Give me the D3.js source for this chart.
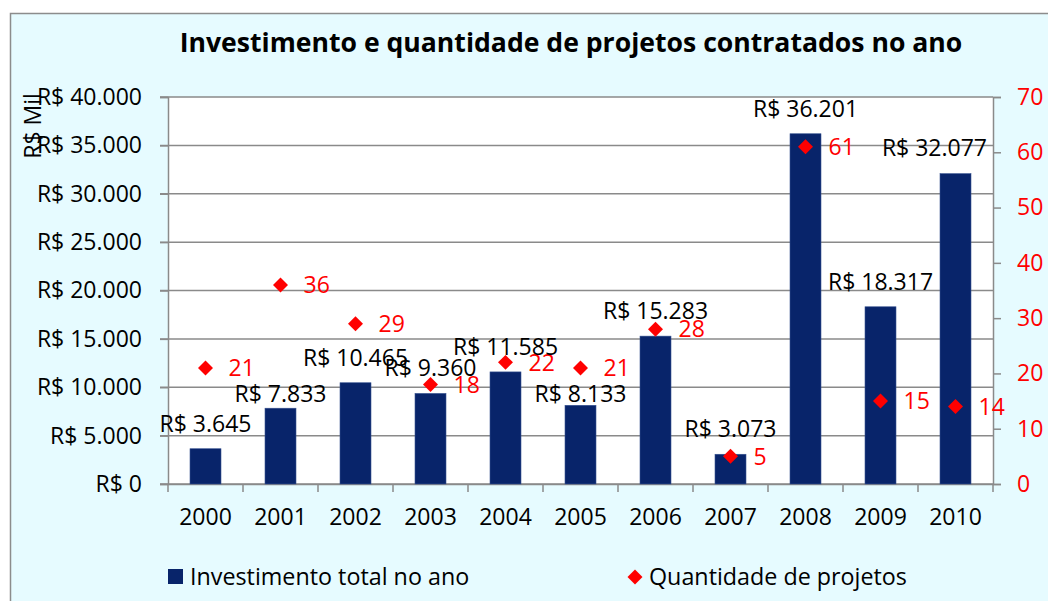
<!DOCTYPE html>
<html><head><meta charset="utf-8">
<script src="https://cdn.jsdelivr.net/npm/d3@7"></script>
<style>
html,body{margin:0;padding:0;background:#fff;}
svg text{font-family:"Open Sans","Noto Sans",sans-serif;}
</style></head>
<body>
<svg id="c" width="1048" height="601"></svg>
<script>
const years = ["2000","2001","2002","2003","2004","2005","2006","2007","2008","2009","2010"];
const investimento = [3645,7833,10465,9360,11585,8133,15283,3073,36201,18317,32077];
const projetos = [21,36,29,18,22,21,28,5,61,15,14];
const leftTicks = [0,5000,10000,15000,20000,25000,30000,35000,40000];
const rightTicks = [0,10,20,30,40,50,60,70];
const title = "Investimento e quantidade de projetos contratados no ano";
const seriesNames = ["Investimento total no ano","Quantidade de projetos"];

const svg = d3.select("#c");
const W=1048,H=601;
const m = {l:168, r:993, t:97, b:484};
const barColor = "#08246a", red = "#ff0000", grid = "#8a8a8a";
const FS = 23;

svg.append("rect").attr("x",10.5).attr("y",13.5).attr("width",W).attr("height",H)
  .attr("fill","#e6fbff").attr("stroke","#8c8c8c").attr("stroke-width",1.5);

const loc = d3.formatLocale({decimal:",",thousands:".",grouping:[3],currency:["R$ ",""]});
const fmt = loc.format("$,.0f");

const x = d3.scaleBand().domain(years).range([m.l,m.r]).paddingInner(0.587).paddingOuter(0.2935);
const y = d3.scaleLinear().domain([0,40000]).range([m.b,m.t]);
const y2 = d3.scaleLinear().domain([0,70]).range([m.b,m.t]);

svg.append("rect").attr("x",m.l).attr("y",m.t).attr("width",m.r-m.l).attr("height",m.b-m.t).attr("fill","#fff");

// title
svg.append("text").attr("x",571).attr("y",52).attr("text-anchor","middle")
  .attr("font-weight","bold").attr("font-size",26.6).attr("fill","#000").text(title);

// gridlines
svg.append("g").selectAll("line").data(leftTicks).join("line")
  .attr("x1",m.l-8).attr("x2",m.r).attr("y1",d=>y(d)).attr("y2",d=>y(d))
  .attr("stroke",grid).attr("stroke-width",1.5);

// left axis
const ga = svg.append("g").attr("transform",`translate(${m.l},0)`)
  .call(d3.axisLeft(y).tickValues(leftTicks).tickFormat(fmt).tickSize(8).tickPadding(18));
ga.select(".domain").attr("stroke",grid).attr("stroke-width",1.5);
ga.selectAll(".tick line").attr("stroke",grid).attr("stroke-width",1.5);
ga.selectAll("text").attr("font-size",FS).attr("fill","#000").style("font-family","Open Sans");

// right axis
const gr = svg.append("g").attr("transform",`translate(${m.r},0)`)
  .call(d3.axisRight(y2).tickValues(rightTicks).tickSize(8).tickPadding(16));
gr.select(".domain").attr("stroke",grid).attr("stroke-width",1.5);
gr.selectAll(".tick line").attr("stroke",grid).attr("stroke-width",1.5);
gr.selectAll("text").attr("font-size",FS).attr("fill",red).style("font-family","Open Sans");

// bottom axis
const gb = svg.append("g").attr("transform",`translate(0,${m.b})`)
  .call(d3.axisBottom(x).tickSize(0).tickPadding(25));
gb.select(".domain").attr("stroke",grid).attr("stroke-width",1.5);
gb.selectAll("text").attr("font-size",FS).attr("fill","#000").style("font-family","Open Sans");
const step = x.step();
const bounds = d3.range(years.length+1).map(i=>m.l + i*step);
svg.append("g").selectAll("line").data(bounds).join("line")
  .attr("x1",d=>d).attr("x2",d=>d).attr("y1",m.b).attr("y2",m.b+8)
  .attr("stroke",grid).attr("stroke-width",1.5);

// y title
svg.append("text").attr("transform","translate(33,126) rotate(-90)").attr("text-anchor","middle")
  .attr("dy","0.35em").attr("font-size",FS).attr("fill","#000").text("R$ Mil");

// bars
svg.append("g").selectAll("rect").data(investimento).join("rect")
  .attr("x",(d,i)=>x(years[i])).attr("width",x.bandwidth())
  .attr("y",d=>y(d)).attr("height",d=>m.b-y(d))
  .attr("fill",barColor).attr("stroke","#34508f").attr("stroke-width",0.6);

// diamonds
const cx = i => x(years[i]) + x.bandwidth()/2;
const sq = d3.symbol().type(d3.symbolSquare).size(112);
svg.append("g").selectAll("path").data(projetos).join("path")
  .attr("d",sq).attr("fill",red)
  .attr("transform",(d,i)=>`translate(${cx(i)},${y2(d)}) rotate(45)`);

// point labels
const HH = 8;
const ptBoxes = [];
svg.append("g").selectAll("text").data(projetos).join("text")
  .attr("x",(d,i)=>cx(i)+23).attr("y",d=>y2(d)).attr("dy","0.36em")
  .attr("font-size",FS).attr("fill",red).text(d=>d)
  .each(function(d){ const b=this.getBBox(); const c=y2(d); ptBoxes.push({x0:b.x,x1:b.x+b.width,y0:c-HH,y1:c+HH}); });

// bar labels
svg.append("g").selectAll("text").data(investimento).join("text")
  .attr("text-anchor","middle").attr("font-size",FS).attr("fill","#000")
  .attr("dy","0.36em").text(d=>fmt(d))
  .each(function(d,i){
    const t = d3.select(this);
    let cxv = cx(i), cy = y(d) - 25.5;
    t.attr("x",cxv).attr("y",cy);
    let b = this.getBBox();
    if (b.x + b.width > m.r - 6) { cxv -= (b.x + b.width - (m.r - 6)); t.attr("x",cxv); b=this.getBBox(); }
    const hit = ptBoxes.find(p => b.x < p.x1 && b.x + b.width > p.x0 && (cy-HH) < p.y1 - 1 && (cy+HH) > p.y0 + 1);
    if (hit) { cy = hit.y1 + HH + 10; t.attr("y",cy); }
  });

// legend
svg.append("rect").attr("x",168).attr("y",569).attr("width",15).attr("height",15).attr("fill",barColor);
svg.append("text").attr("x",190).attr("y",577).attr("dy","0.36em").attr("font-size",23.3).text(seriesNames[0]);
svg.append("path").attr("d",sq)
  .attr("transform","translate(635,577) rotate(45)").attr("fill",red);
svg.append("text").attr("x",649).attr("y",577).attr("dy","0.36em").attr("font-size",23.3).text(seriesNames[1]);
</script>
</body></html>
